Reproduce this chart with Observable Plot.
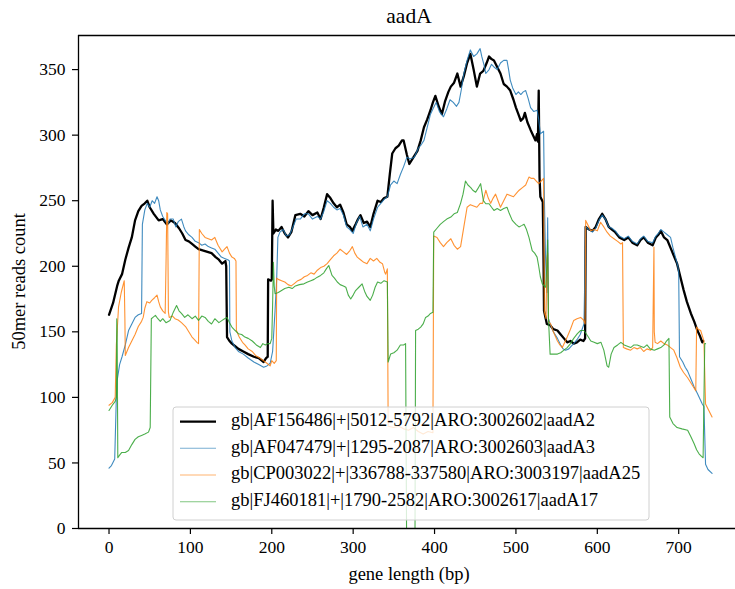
<!DOCTYPE html>
<html>
<head>
<meta charset="utf-8">
<script src="https://cdn.jsdelivr.net/npm/d3@7"></script>
<script src="https://cdn.jsdelivr.net/npm/@observablehq/plot@0.6"></script>
<style>
  html, body { margin: 0; padding: 0; background: #fff; }
  #chart svg { display: block; }
  #chart svg text { font-family: 'Liberation Serif', 'Times New Roman', serif; }
</style>
</head>
<body>
<div id="chart"></div>
<script>
// ---- data ([bp, reads]) ----
const seriesNames = [
  "gb|AF156486|+|5012-5792|ARO:3002602|aadA2",
  "gb|AF047479|+|1295-2087|ARO:3002603|aadA3",
  "gb|CP003022|+|336788-337580|ARO:3003197|aadA25",
  "gb|FJ460181|+|1790-2582|ARO:3002617|aadA17"
];
const seriesColors = ["#000000", "#1f77b4", "#ff7f0e", "#2ca02c"];
const xTicks = [0, 100, 200, 300, 400, 500, 600, 700];
const yTicks = [0, 50, 100, 150, 200, 250, 300, 350];
const chartTitle = "aadA";
const xLabel = "gene length (bp)";
const yLabel = "50mer reads count";

const aadA2 = [[0,163],[5,172],[10,185],[12,189],[16,194],[20,205],[24,214],[28,222],[32,235],[36,242],[40,246],[44,248],[47,250],[50,245],[55,240],[61,235],[66,236],[71,232],[76,235],[81,233],[86,229],[90,225],[94,220],[98,219],[102,217],[106,215],[110,213],[116,212],[121,211],[126,210],[131,207],[135,205],[139,202],[143,204],[144,200],[145,146],[148,143],[151,141],[155,139],[159,137],[165,135],[171,133],[178,131],[184,130],[190,127],[193,130],[195,131],[195.5,190],[199,189],[200,190],[201,250],[202,225],[205,228],[208,227],[212,230],[216,225],[220,222],[224,226],[229,239],[235,240],[240,238],[245,242],[250,239],[256,241],[260,236],[264,245],[268,255],[272,252],[276,248],[280,245],[284,247],[288,241],[292,232],[296,230],[299,227],[303,232],[306,236],[309,239],[313,233],[317,234],[321,230],[325,240],[330,250],[334,249],[338,252],[342,253],[345,270],[348,286],[352,290],[356,292],[360,296],[362,296],[366,285],[369,278],[374,283],[379,288],[383,296],[387,306],[391,312],[395,319],[398,325],[401,330],[405,322],[409,316],[413,326],[417,333],[420,337],[424,340],[428,347],[432,337],[436,345],[440,355],[444,362],[448,350],[452,337],[456,347],[460,349],[464,355],[467,360],[470,358],[473,357],[477,352],[481,347],[485,339],[489,337],[493,334],[497,327],[500,321],[503,316],[506,311],[509,313],[511,317],[514,310],[518,304],[521,300],[524,296],[526,301],[527,295],[528,334],[529,268],[530,253],[533,249],[534,200],[534.5,166],[538,156],[542,155],[546,152],[551,151],[555,148],[559,145],[563,142],[567,143],[571,141],[575,142],[579,144],[583,143],[585,145],[585.7,230],[590,228],[594,227],[598,230],[602,236],[606,240],[610,236],[614,230],[618,228],[622,226],[627,222],[633,220],[638,222],[643,218],[649,216],[653,220],[657,222],[662,218],[668,216],[672,222],[675,224],[678,227],[682,222],[686,220],[690,214],[694,208],[698,202],[702,192],[706,182],[710,173],[715,164],[719,158],[723,151],[726,147],[729,142],[730,143]];

const aadA3 = [[0,46],[3,48],[7,53],[9,100],[10,113],[13,125],[16,131],[20,140],[24,151],[28,156],[32,161],[36,163],[40,164],[41,232],[44,243],[47,248],[50,245],[53,250],[56,248],[59,253],[61,250],[63,243],[66,238],[69,235],[72,232],[75,236],[79,236],[82,230],[85,234],[89,236],[92,230],[94,227],[98,224],[102,222],[106,219],[110,218],[114,216],[118,217],[122,215],[126,214],[130,213],[134,210],[138,207],[142,206],[146,205],[148,204],[148.5,150],[151,143],[155,138],[159,135],[165,133],[171,130],[178,127],[184,125],[190,123],[194,124],[198,126],[201,135],[204,166],[206,190],[207.5,222],[210,226],[214,228],[218,223],[222,224],[226,230],[230,236],[235,236],[240,240],[245,240],[250,236],[256,238],[260,236],[264,242],[268,250],[272,248],[276,245],[280,243],[284,244],[288,239],[292,230],[296,228],[300,225],[304,233],[308,238],[312,230],[317,232],[321,227],[325,236],[330,245],[334,248],[338,251],[342,253],[346,262],[350,265],[354,263],[358,270],[362,276],[366,283],[370,282],[375,283],[380,290],[384,293],[387,296],[391,306],[395,316],[398,320],[402,325],[406,318],[411,314],[415,320],[419,327],[423,325],[427,322],[430,325],[433,335],[436,347],[440,357],[444,365],[448,360],[452,362],[456,366],[458,360],[461,353],[463,347],[467,350],[470,354],[473,352],[477,350],[481,355],[485,357],[489,357],[491,350],[493,342],[496,336],[500,331],[503,333],[506,331],[509,333],[512,334],[515,328],[518,321],[522,318],[526,319],[528,312],[530,301],[534,303],[535,250],[536.5,204],[538,180],[539,237],[540,160],[542,156],[546,150],[551,145],[555,140],[558,137],[561,136],[565,137],[568,139],[571,141],[575,144],[579,148],[583.6,156],[585.7,230],[590,228],[594,226],[598,229],[602,235],[606,239],[610,236],[614,230],[618,229],[622,227],[627,223],[633,221],[638,223],[643,219],[649,217],[653,221],[657,223],[662,219],[668,218],[672,223],[675,225],[678,228],[682,226],[686,224],[690,222],[693,214],[696,207],[699,200],[700,195],[701,131],[705,127],[708,123],[711,120],[715,114],[719,108],[723,103],[726,99],[729,95],[731,93],[733,49],[736,45],[741,42]];

const aadA25 = [[0,94],[4,96],[7.6,100],[9,140],[11.7,169],[15,180],[18.7,189],[19.5,160],[20,132],[24,138],[28,143],[32,148],[36,154],[40,158],[42,161],[44,168],[46.5,173],[50,172],[52.5,174],[56,176],[59,178],[61,173],[63,169],[66,166],[69,164],[70,200],[71,241],[72,240],[73,165],[74,161],[78,162],[81,160],[85,159],[89,157],[94,154],[98,150],[102,146],[105,144],[108,142],[110,141],[111,228],[114,225],[118,222],[122,221],[126,220],[130,222],[134,216],[139,211],[142,213],[145,215],[148,210],[151,207],[154,206],[156,204],[156.5,151],[160,146],[164,142],[167,140],[171,137],[176,135],[180,132],[185,130],[190,128],[194,126],[198,124],[200,128],[203,126],[205.5,128],[206,191],[208,190],[212,189],[216,188],[220,186],[224,185],[228,187],[232,189],[236,190],[240,192],[244,193],[248,195],[252,194],[256,197],[260,199],[264,200],[268,202],[272,205],[276,208],[280,210],[284,213],[288,211],[292,209],[296,212],[299,215],[302,210],[305,207],[309,205],[313,203],[317,202],[321,206],[325,204],[329,206],[333,203],[336,202],[339,195],[340,194],[342,198],[343,78],[350,77],[356,78],[362,76],[368,75],[374,77],[380,74],[386,72],[392,74],[398,73],[399,223],[403,222],[407,218],[411,215],[415,218],[420,221],[424,216],[428,213],[432,215],[436,230],[440,245],[444,247],[448,246],[452,245],[456,248],[459,248],[463,258],[466,252],[469,248],[472,252],[475,255],[478,250],[481,245],[485,250],[489,255],[493,254],[497,253],[501,256],[504,258],[508,260],[512,262],[516,268],[519,267],[522,267],[525,265],[528,263],[531,265],[534,267],[535,165],[537,160],[538,205],[539,210],[540,158],[542.6,156],[546,150],[551,143],[554,140],[557,138],[560,142],[563,146],[567,152],[571,158.7],[575,160],[579.5,161],[583,159],[585,156],[585.7,235],[588,232],[592,227],[596,228],[600,227],[604,233.6],[608,230],[612,226],[616,223],[620.5,221],[625,219],[629,217],[631,218],[632,138],[636,137],[641,136],[645,138],[649,137],[653,138],[657,135],[661,137],[665.6,136],[668,138],[669.6,214.6],[670,150],[671,142],[674,141],[678,143],[682,141],[686,140],[690,138],[694,136],[698,130],[702,123],[706,119],[711,115],[716,110],[721,105],[722,153.6],[724,152],[727,151],[730,145],[731,143],[733,95],[737,90],[741,85]];

const aadA17 = [[0,90],[4,94],[7.6,97],[9,100],[9.5,160],[10,150],[10.8,54],[13,56],[15.7,58],[20,58],[24,59.5],[28,64],[32,68],[36,70],[40,71],[44,72],[48.5,73.5],[50.6,77],[52,160],[54,161],[57,162.5],[60,160],[63,158],[66,160],[70,157],[75,158.7],[79,165],[83,170],[86,166],[89,164],[93,161],[97,163],[102,160],[106,162],[110,158.7],[114,162],[118,161],[122,158],[126,156],[130,160],[135,157],[139,158.7],[142,160],[145,161],[148,157],[151,153.6],[155,151],[159,148.6],[163,148],[167,146],[171,145],[176,143],[181,140],[186,138],[189,141],[192,140],[195,141],[198,141],[200,145],[201,170],[202,203],[203,185],[204,179],[208,180],[212,181.5],[216,183],[221,184],[225,183],[229,185],[234,186],[239.5,186.6],[244,188],[248,189],[252,190],[256,191.7],[260,193],[264,195],[267,198],[270,200.6],[274,193],[277,191],[280.5,188],[284,186],[288,185],[291,184],[294,178],[297,175],[300,178],[303,181.5],[307,184],[311,186.6],[314,181],[317,177],[321,174],[324,178],[327,184],[330,188],[334,187],[338,189],[342,188],[343,127],[346,133],[350,134],[354,136],[358,140],[362,140],[364.4,141],[365.6,0],[376,0],[376.7,151],[380,152],[383,153.6],[386,156],[389,161],[392,162],[395,164],[398,165],[399,226],[403,229],[407,232],[411,234],[415,236],[420,237.5],[424,240],[428,241],[432,248],[435,255],[438,265],[441,262],[444.5,260],[447,258],[450.5,256.5],[453,259],[456.6,263],[460,250],[463,247.7],[467,247.7],[470,245],[473,242.6],[477,244],[481,242.6],[485,244],[489,245],[492,240],[495.5,235],[500,232],[503.7,230],[507,231],[510,232],[513,228],[516,222],[520,212],[523,210],[526,207],[528,200],[530,192],[532.4,186.6],[536.5,184],[538,200],[539,220],[540,160],[542,133],[546,133],[551,133],[555,134],[559,136],[563,138],[567,141],[571,145],[575.5,148.6],[579.5,151],[583.6,151],[588,147],[592,143],[596,142],[600,141],[604.5,142],[608,136],[612,124],[614,123],[617,133],[620.5,138],[625,140],[629,142],[633,140],[637,139],[641,138],[645,140],[649,140],[653,139],[657,138],[661,140],[665,137],[670,136],[674,137],[678,138],[682,140],[685,143],[688,145],[689,85],[693,80],[698,77],[704,76],[711,75],[715,70],[719,64.6],[722,60],[725,57],[728,55],[730,54],[732,141],[733,141]];

const allSeries = [aadA2, aadA3, aadA25, aadA17];
const rows = allSeries.map((s, i) => s.map(([bp, reads]) => ({name: seriesNames[i], bp, reads})));

// ---- layout ----
const W = 735, H = 589;
const mL = 78, mR = 0, mT = 35, mB = 61;
const FONT = "'Liberation Serif', 'Times New Roman', serif";
const FS = 17.5;   // tick labels
const FL = 18.5;   // axis labels and legend

const widths = [2.3, 1.1, 1.1, 1.1];
const opac = [1, 0.85, 0.85, 0.85];

const plot = Plot.plot({
  width: W, height: H,
  marginLeft: mL, marginRight: mR, marginTop: mT, marginBottom: mB,
  style: {fontFamily: FONT, fontSize: FS + "px", background: "#fff", color: "#000"},
  x: {domain: [-37.5, 769.8], label: null},
  y: {domain: [0, 376], label: null},
  marks: [
    ...rows.map((r, i) => Plot.line(r, {
      x: "bp", y: "reads", stroke: seriesColors[i],
      strokeWidth: widths[i], strokeOpacity: opac[i], strokeLinejoin: "round"
    })),
    Plot.ruleY([0], {stroke: "#000", strokeWidth: 1.3}),
    Plot.ruleY([376], {stroke: "#000", strokeWidth: 1.3}),
    Plot.ruleX([-37.5], {stroke: "#000", strokeWidth: 1.3}),
    Plot.axisX(xTicks, {tickSize: 6, tickPadding: 6, fontSize: FS, label: null, strokeWidth: 1.2}),
    Plot.axisY(yTicks, {tickSize: 6, tickPadding: 7, fontSize: FS, label: null, strokeWidth: 1.2})
  ]
});

document.getElementById("chart").appendChild(plot);

// ---- titles, axis labels, legend ----
const svg = d3.select(plot);
const cx = (mL + 740) / 2;
svg.append("text").attr("x", cx).attr("y", 18).attr("text-anchor", "middle")
  .attr("dominant-baseline", "middle").attr("font-family", FONT).attr("font-size", 21.5)
  .attr("fill", "#000").text(chartTitle);
svg.append("text").attr("x", cx).attr("y", 576).attr("text-anchor", "middle")
  .attr("dominant-baseline", "middle").attr("font-family", FONT).attr("font-size", FL)
  .attr("fill", "#000").text(xLabel);
svg.append("text").attr("transform", `translate(21,${(mT + H - mB) / 2}) rotate(-90)`)
  .attr("text-anchor", "middle").attr("dominant-baseline", "middle")
  .attr("font-family", FONT).attr("font-size", FL).attr("fill", "#000").text(yLabel);

const lg = svg.append("g").attr("text-anchor", "start");
lg.append("rect").attr("x", 173).attr("y", 407).attr("width", 476).attr("height", 113)
  .attr("rx", 3).attr("fill", "#fff").attr("fill-opacity", 0.8)
  .attr("stroke", "#d0d0d0").attr("stroke-width", 1);
const rowY = [421.7, 448.3, 475, 501.7];
seriesNames.forEach((n, i) => {
  lg.append("line").attr("x1", 180).attr("x2", 216).attr("y1", rowY[i]).attr("y2", rowY[i])
    .attr("stroke", seriesColors[i]).attr("stroke-width", widths[i]).attr("stroke-opacity", opac[i] * (i ? 0.7 : 1));
  lg.append("text").attr("x", 231).attr("y", rowY[i]).attr("text-anchor", "start")
    .attr("dominant-baseline", "middle")
    .attr("font-family", FONT).attr("font-size", FL).attr("fill", "#000").text(n);
});
</script>
</body>
</html>
